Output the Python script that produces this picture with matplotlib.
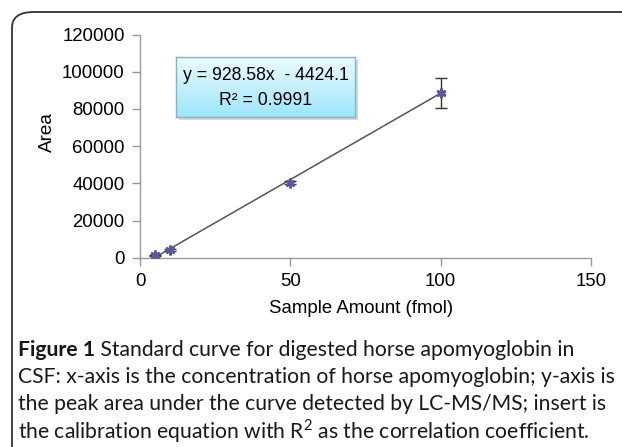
import matplotlib
matplotlib.use("Agg")
import matplotlib.pyplot as plt
import numpy as np
from matplotlib.patches import FancyBboxPatch
from matplotlib import font_manager

# Data
x_vals = [5, 10, 50, 100]
y_vals = [1300, 4100, 40200, 88600]
y_err = [400, 600, 800, 8000]
slope = 928.58
intercept = -4424.1
r2 = 0.9991
x_ticks = [0, 50, 100, 150]
y_ticks = [0, 20000, 40000, 60000, 80000, 100000, 120000]
caption_lines = [
    ("Figure 1", " Standard curve for digested horse apomyoglobin in"),
    ("", "CSF: x-axis is the concentration of horse apomyoglobin; y-axis is"),
    ("", "the peak area under the curve detected by LC-MS/MS; insert is"),
    ("", "the calibration equation with R$^2$ as the correlation coefficient."),
]

names = {f.name for f in font_manager.fontManager.ttflist}
SANS = "Liberation Sans"
CAP = "Lato" if "Lato" in names else "DejaVu Sans"

W, H = 622, 447
fig = plt.figure(figsize=(W / 100, H / 100), dpi=100)
plt.rcParams['mathtext.fontset'] = 'custom'
plt.rcParams['mathtext.rm'] = CAP

def fx(px):
    return px / W

def fy(py):
    return 1 - py / H

# Border rounded box
border = FancyBboxPatch((fx(12), fy(470)), fx(700), fy(12) - fy(470),
                        boxstyle="round,pad=0,rounding_size=0.035",
                        transform=fig.transFigure, fill=False,
                        edgecolor="#333333", linewidth=1.3, clip_on=False)
fig.patches.append(border)

AX_L, AX_R, AX_B, AX_T = 140, 591, 257.7, 34.5
ax = fig.add_axes([fx(AX_L), fy(AX_B), fx(AX_R) - fx(AX_L), fy(AX_T) - fy(AX_B)])
ax.set_xlim(0, 150)
ax.set_ylim(0, 120000)

xs = np.array([min(x_vals), max(x_vals)])
ax.plot(xs, slope * xs + intercept, color="#555555", linewidth=1.1, zorder=2)
ax.errorbar(x_vals, y_vals, yerr=y_err, fmt='none', ecolor="#333333",
            elinewidth=1.0, capsize=4, capthick=1.0, zorder=3)
ax.plot(x_vals, y_vals, linestyle='none', marker=(6, 2, 0), markersize=7,
        markeredgecolor="#5a5a9a", markeredgewidth=2.0, zorder=4)

for s in ["top", "right"]:
    ax.spines[s].set_visible(False)
for s in ["left", "bottom"]:
    ax.spines[s].set_color("#999999")
    ax.spines[s].set_linewidth(1.0)
ax.set_xticks(x_ticks)
ax.set_yticks(y_ticks)
ax.set_xticklabels([str(t) for t in x_ticks])
ax.set_yticklabels([str(t) for t in y_ticks])
ax.tick_params(direction='out', length=6, color="#999999", width=1.0,
               labelsize=13.4, labelcolor="#000000")
ax.tick_params(axis='y', pad=5)
ax.tick_params(axis='x', pad=5)
for lab in ax.get_xticklabels() + ax.get_yticklabels():
    lab.set_family(SANS)
ax.set_xlabel("Sample Amount (fmol)", fontsize=13.4, family=SANS, color="#000000")
ax.set_ylabel("Area", fontsize=13.6, family=SANS, color="#000000")
axw = AX_R - AX_L
axh = AX_B - AX_T
ax.xaxis.set_label_coords((361.5 - AX_L) / axw, (AX_B - 300) / axh)
ax.xaxis.label.set_va('top')
ax.yaxis.set_label_coords((56 - AX_L) / axw, (AX_B - 132) / axh)

# Equation box with gradient
bx0, bx1, by0, by1 = 176, 355, 57, 117
shadow = FancyBboxPatch((fx(bx0 + 3), fy(by1 + 3)), fx(bx1 - bx0), fy(by0) - fy(by1),
                        boxstyle="square,pad=0", transform=fig.transFigure,
                        facecolor="#bbbbbb", edgecolor="none", alpha=0.6, zorder=5)
fig.patches.append(shadow)
bax = fig.add_axes([fx(bx0), fy(by1), fx(bx1 - bx0), fy(by0) - fy(by1)], zorder=6)
grad = np.linspace(0, 1, 100).reshape(-1, 1)
top = np.array([0.93, 0.98, 1.0])
bot = np.array([0.62, 0.90, 0.98])
img = top + (bot - top) * grad[:, :, None]
bax.imshow(img, aspect='auto', extent=[0, 1, 0, 1], origin='upper')
bax.set_xlim(0, 1)
bax.set_ylim(0, 1)
bax.set_xticks([])
bax.set_yticks([])
for s in bax.spines.values():
    s.set_color("#7fb6c8")
    s.set_linewidth(1.0)
bax.text(0.5, 0.70, "y = %.2fx  - %.1f" % (slope, -intercept), ha='center', va='center',
         fontsize=12.7, family=SANS, color="#000000")
bax.text(0.5, 0.28, "R² = %.4f" % r2, ha='center', va='center',
         fontsize=12.7, family=SANS, color="#000000")

# Caption
line_y = [350, 377, 404, 431]
for (bold, rest), py in zip(caption_lines, line_y):
    x0 = fx(18)
    if bold:
        t = fig.text(x0, fy(py), bold, fontsize=15.2, fontweight='bold',
                     family=CAP, va='center', ha='left', color="#1a1718")
        fig.canvas.draw()
        bb = t.get_window_extent()
        x0 = bb.x1 / W
    fig.text(x0, fy(py), rest, fontsize=15.2, family=CAP,
             va='center', ha='left', color="#1a1718")

fig.savefig("out.png", dpi=100)
